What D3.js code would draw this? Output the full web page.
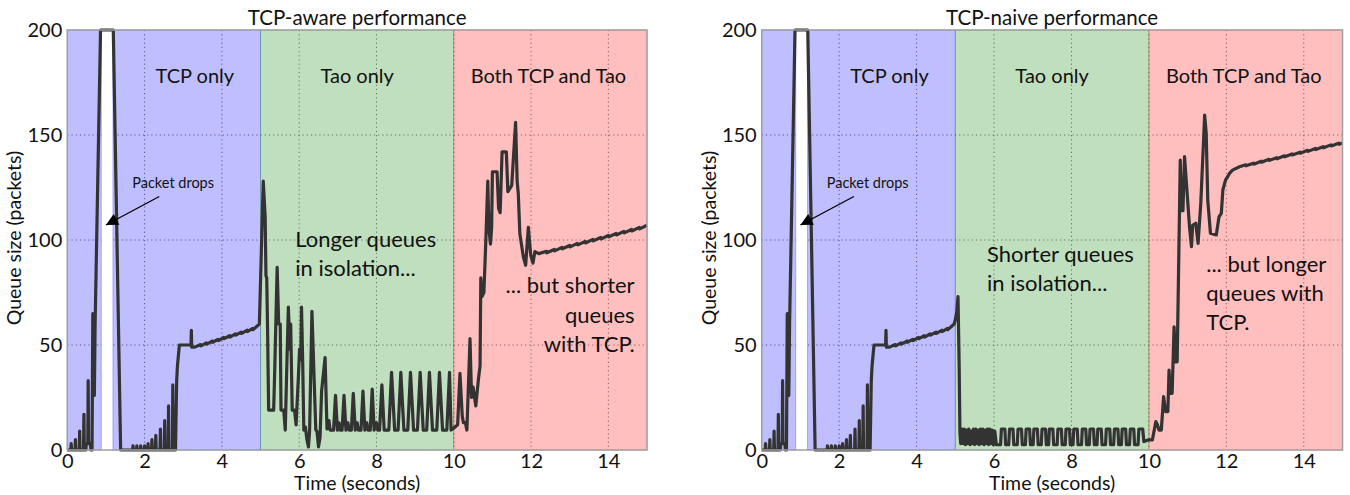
<!DOCTYPE html>
<html><head><meta charset="utf-8">
<script src="https://cdn.jsdelivr.net/npm/d3@7"></script>
<style>
html,body{margin:0;padding:0;background:#fff;}
svg text{font-family:"Lato","Noto Sans",sans-serif;fill:#111;}
</style></head>
<body><svg id="chart" width="1350" height="495"></svg>
<script>
// ---------- data ----------
const xTicks = [0, 2, 4, 6, 8, 10, 12, 14];
const yTicks = [0, 50, 100, 150, 200];
const phaseBounds = [0, 5, 10, 15];           // seconds
const dropWindow = [0.88, 1.18];              // seconds (packet drop gap)
const phaseLabels = ["TCP only", "Tao only", "Both TCP and Tao"];
const phaseLabelTimes = [3.3, 7.5, 12.45];
const titles = ["TCP-aware performance", "TCP-naive performance"];

// TCP-only phase (same in both experiments), [seconds, packets]
const tcpPhase = [
 [0,0],[0.09,0],[0.1,3],[0.11,0],[0.2,0],[0.21,5],[0.22,0],[0.31,0],[0.32,9],[0.33,0],
 [0.42,0],[0.43,17],[0.44,0],[0.48,0],[0.49,3],[0.53,3],[0.54,33],[0.55,3],[0.6,3],[0.61,0],
 [0.64,0],[0.66,65],[0.68,62],[0.7,26],[0.72,60],[0.86,200],[1.19,200],[1.38,0],
 [1.69,0],[1.7,2],[1.71,0],[1.79,0],[1.8,2],[1.81,0],[1.89,0],[1.9,2],[1.91,0],[1.99,0],[2.0,2],[2.01,0],
 [2.08,0],[2.09,3],[2.1,0],[2.18,0],[2.19,5],[2.2,0],[2.28,0],[2.29,7],[2.3,0],[2.4,0],[2.41,10],[2.42,0],
 [2.51,0],[2.52,14],[2.53,0],[2.61,0],[2.62,21],[2.63,0],[2.72,0],[2.73,31],[2.74,0],[2.8,0],[2.83,33],
 [2.85,40],[2.9,50],[3.2,50],[3.21,57],[3.22,49],[3.3,49],
 [3.45,50.2],[3.46,49.6],[3.6,51],[3.61,50.4],[3.75,51.9],[3.76,51.3],[3.9,52.7],[3.91,52.1],
 [4.05,53.6],[4.06,53],[4.2,54.4],[4.21,53.8],[4.35,55.3],[4.36,54.7],[4.5,56.1],[4.51,55.5],
 [4.65,57],[4.66,56.4],[4.8,57.9],[4.81,57.3],[4.97,60]
];

// TCP-aware: Tao-only phase
const awareTao = [
 [4.97,60],[5.07,128],[5.12,111],[5.14,83],[5.16,82],[5.18,60],[5.21,19],[5.34,19],[5.37,40],[5.43,87],
 [5.47,60],[5.51,60],[5.53,19],[5.6,19],[5.64,9.5],[5.68,40],[5.72,68],[5.76,48],[5.78,60],[5.82,19],
 [5.88,19],[5.92,12],[5.98,35],[6.01,48],[6.04,43],[6.06,68],[6.09,43],[6.12,9.5],[6.16,11],[6.2,5],
 [6.24,1.5],[6.27,9.5],[6.33,66],[6.39,32],[6.43,9.5],[6.46,9],[6.5,1.5],[6.54,6],[6.58,28],[6.67,44],
 [6.72,10],[6.77,14],[6.8,9.5],[6.89,9.5],[6.94,26],[6.99,9.5],[7.03,13],[7.06,9.5],[7.11,9.5],[7.16,26],
 [7.21,9.5],[7.26,13],[7.29,9.5],[7.35,9.5],[7.4,27],[7.45,9.5],[7.5,13],[7.53,9.5],[7.6,9.5],[7.65,28],
 [7.7,9.5],[7.75,13],[7.78,9.5],[7.84,9.5],[7.89,29],[7.94,9.5],[8.0,13],[8.03,9.5],[8.08,9.5],[8.14,31],
 [8.2,9.5],[8.32,9.5],[8.39,37],[8.47,9.5],[8.56,9.5],[8.63,37],[8.71,9.5],[8.81,9.5],[8.88,37],[8.96,9.5],
 [9.06,9.5],[9.13,37],[9.21,9.5],[9.3,9.5],[9.37,37],[9.45,9.5],[9.56,9.5],[9.63,37],[9.71,9.5],[9.82,9.5],
 [9.89,37],[9.93,9.5]
];

// TCP-aware: both phase
const awareBoth = [
 [9.93,9.5],[10.04,11],[10.1,12],[10.16,36.5],[10.22,16],[10.25,13],[10.3,13],[10.34,9.5],[10.42,53],
 [10.46,25],[10.5,30],[10.57,21],[10.64,34],[10.68,40],[10.7,82],[10.73,73],[10.78,75],[10.83,100],
 [10.88,128],[10.91,105],[10.95,98],[10.98,106],[11.0,132.5],[11.12,132.5],[11.16,115],[11.2,113],
 [11.25,142],[11.36,142],[11.4,123],[11.5,126],[11.6,156],[11.64,128],[11.67,122],[11.71,103],[11.8,92],
 [11.86,88],[11.93,106],[11.99,93],[12.05,89],[12.1,94.5],[12.2,93.5],
 [12.4,94.6],[12.41,93.9],[12.6,95.5],[12.61,94.8],[12.8,96.5],[12.81,95.8],[13.0,97.4],[13.01,96.7],
 [13.2,98.4],[13.21,97.7],[13.4,99.3],[13.41,98.6],[13.6,100.3],[13.61,99.6],[13.8,101.2],[13.81,100.5],
 [14.0,102.2],[14.01,101.5],[14.2,103.1],[14.21,102.4],[14.4,104.1],[14.41,103.4],[14.6,105],[14.61,104.3],
 [14.8,106],[14.81,105.3],[15,107]
];

// TCP-naive: Tao-only phase
const naiveTao = [
 [4.97,60],[5.0,62],[5.04,66],[5.07,73],[5.1,40],[5.12,8],[5.14,3],
 [5.17,10],[5.2,3],[5.23,10],[5.26,2.5],[5.29,9.5],[5.32,3],[5.35,10],[5.38,2.5],[5.41,9],[5.44,3],
 [5.47,10],[5.5,2.5],[5.53,10],[5.56,3],[5.59,9.5],[5.62,2.5],[5.65,10],[5.68,3],[5.71,10],[5.74,2.5],
 [5.77,9.5],[5.8,3],[5.83,10],[5.86,2.5],[5.89,10],[5.92,3],[5.95,9.5],[5.98,2.5],[6.02,9],[6.06,2.5],
 [6.17,2.5],[6.19,10],[6.28,10],[6.3,2.5],[6.38,2.5],[6.4,10],[6.49,10],[6.51,2.5],
 [6.6,2.5],[6.62,10],[6.71,10],[6.73,2.5],[6.81,2.5],[6.83,10],[6.92,10],[6.94,2.5],
 [7.01,2.5],[7.03,10],[7.12,10],[7.14,2.5],[7.22,2.5],[7.24,10],[7.33,10],[7.35,2.5],
 [7.41,2.5],[7.43,10],[7.52,10],[7.54,2.5],[7.63,2.5],[7.65,10],[7.74,10],[7.76,2.5],
 [7.84,2.5],[7.86,10],[7.95,10],[7.97,2.5],[8.04,2.5],[8.06,10],[8.15,10],[8.17,2.5],
 [8.26,2.5],[8.28,10],[8.37,10],[8.39,2.5],[8.46,2.5],[8.48,10],[8.57,10],[8.59,2.5],
 [8.66,2.5],[8.68,10],[8.77,10],[8.79,2.5],[8.88,2.5],[8.9,10],[8.99,10],[9.01,2.5],
 [9.09,2.5],[9.11,10],[9.2,10],[9.22,2.5],[9.29,2.5],[9.31,10],[9.4,10],[9.42,2.5],
 [9.5,2.5],[9.52,10],[9.61,10],[9.63,2.5],[9.72,2.5],[9.74,10],[9.84,10],[9.87,4]
];

// TCP-naive: both phase
const naiveBoth = [
 [9.87,4],[9.98,4.8],[10.09,4.8],[10.18,13.5],[10.22,12],[10.26,9.5],[10.32,9.5],[10.38,25.4],
 [10.43,18.3],[10.49,18.3],[10.52,38],[10.55,27],[10.6,27],[10.65,58.7],[10.69,42],[10.73,42],
 [10.81,138],[10.84,114],[10.88,114],[10.92,139.7],[10.97,127],[11.05,106],[11.1,96.8],[11.13,107],
 [11.21,108],[11.27,98.4],[11.34,117.5],[11.44,159.5],[11.48,150.8],[11.52,119],[11.59,103.2],
 [11.74,102.4],[11.81,111],[11.87,112.7],[11.91,123.8],[11.98,128.6],[12.03,130],[12.08,131.7],
 [12.16,133.3],[12.34,134.9],
 [12.5,135.8],[12.51,135.3],[12.7,136.6],[12.71,136.1],[12.9,137.5],[12.91,137],[13.1,138.4],[13.11,137.9],
 [13.3,139.2],[13.31,138.7],[13.5,140.1],[13.51,139.6],[13.7,141],[13.71,140.5],[13.9,141.8],[13.91,141.3],
 [14.1,142.7],[14.11,142.2],[14.3,143.6],[14.31,143.1],[14.5,144.4],[14.51,143.9],[14.7,145.3],[14.71,144.8],
 [14.9,146.1],[14.91,145.6],[15,146.2]
];

const awareSeries = tcpPhase.concat(awareTao, awareBoth);
const naiveSeries = tcpPhase.concat(naiveTao, naiveBoth);

// ---------- drawing ----------
const svg = d3.select("#chart");
const yTop = 30, yBot = 450;
const panels = [
  {x0: 67.3, x1: 647, title: titles[0], series: awareSeries,
   notes: [
     {lines:["Longer queues","in isolation..."], t:5.9, anchor:"start", base:247, step:29},
     {lines:["... but shorter","queues","with TCP."], t:14.68, anchor:"end", base:293, step:29.5}
   ]},
  {x0: 761.7, x1: 1342.5, title: titles[1], series: naiveSeries,
   notes: [
     {lines:["Shorter queues","in isolation..."], t:5.82, anchor:"start", base:262, step:29},
     {lines:["... but longer","queues with","TCP."], t:11.48, anchor:"start", base:272, step:29}
   ]}
];
const phaseColors = ["#0000ff", "#008000", "#ff0000"];

panels.forEach(p => {
  const x = d3.scaleLinear().domain([0, 15]).range([p.x0, p.x1]);
  const y = d3.scaleLinear().domain([0, 200]).range([yBot, yTop]);
  const g = svg.append("g");

  // grid
  g.append("g").selectAll("line.vg").data(xTicks.filter(d => d > 0)).join("line")
    .attr("x1", d => x(d)).attr("x2", d => x(d)).attr("y1", yTop).attr("y2", yBot)
    .attr("stroke", "#777").attr("stroke-width", 1).attr("stroke-dasharray", "1.2,3");
  g.append("g").selectAll("line.hg").data(yTicks.filter(d => d > 0 && d < 200)).join("line")
    .attr("x1", p.x0).attr("x2", p.x1).attr("y1", d => y(d)).attr("y2", d => y(d))
    .attr("stroke", "#777").attr("stroke-width", 1).attr("stroke-dasharray", "1.2,3");

  // phase spans
  const spans = [
    {a: phaseBounds[0], b: dropWindow[0], c: phaseColors[0]},
    {a: dropWindow[1], b: phaseBounds[1], c: phaseColors[0]},
    {a: phaseBounds[1], b: phaseBounds[2], c: phaseColors[1]},
    {a: phaseBounds[2], b: phaseBounds[3], c: phaseColors[2]}
  ];
  g.append("rect").attr("x", x(dropWindow[0])).attr("width", x(dropWindow[1]) - x(dropWindow[0]))
    .attr("y", yTop).attr("height", yBot - yTop).attr("fill", "#fff");
  g.append("g").selectAll("rect").data(spans).join("rect")
    .attr("x", d => x(d.a)).attr("width", d => x(d.b) - x(d.a))
    .attr("y", yTop).attr("height", yBot - yTop)
    .attr("fill", d => d.c).attr("fill-opacity", 0.25)
    .attr("stroke", d => d.c).attr("stroke-opacity", 0.25).attr("stroke-width", 1);

  // phase labels
  g.append("g").selectAll("text").data(phaseLabels).join("text")
    .attr("x", (d, i) => x(phaseLabelTimes[i])).attr("y", 83)
    .attr("text-anchor", "middle").attr("font-size", 20).text(d => d);

  // data line
  const line = d3.line().x(d => x(d[0])).y(d => y(d[1]));
  g.append("path").datum(p.series).attr("d", line)
    .attr("fill", "none").attr("stroke", "#333").attr("stroke-width", 3.2)
    .attr("stroke-linejoin", "round");

  // frame
  g.append("rect").attr("x", p.x0).attr("y", yTop).attr("width", p.x1 - p.x0).attr("height", yBot - yTop)
    .attr("fill", "none").attr("stroke", "#a0a0a0").attr("stroke-width", 1.5);

  // axes
  const xa = g.append("g").attr("transform", `translate(0,${yBot})`)
    .call(d3.axisBottom(x).tickValues(xTicks).tickSize(0).tickPadding(0).tickFormat(d3.format("d")));
  xa.select(".domain").remove();
  xa.selectAll("text").attr("font-size", 20).attr("fill", "#111").attr("y", 18).attr("dy", null);
  const ya = g.append("g").attr("transform", `translate(${p.x0},0)`)
    .call(d3.axisLeft(y).tickValues(yTicks).tickSize(0).tickPadding(5).tickFormat(d3.format("d")));
  ya.select(".domain").remove();
  ya.selectAll("text").attr("font-size", 20).attr("fill", "#111");

  // titles & axis labels
  g.append("text").attr("x", (p.x0 + p.x1) / 2).attr("y", 25).attr("text-anchor", "middle")
    .attr("font-size", 20.5).text(p.title);
  g.append("text").attr("x", (p.x0 + p.x1) / 2).attr("y", 490).attr("text-anchor", "middle")
    .attr("font-size", 19.5).text("Time (seconds)");
  g.append("text").attr("transform", `translate(${p.x0 - 46},238) rotate(-90)`)
    .attr("text-anchor", "middle").attr("font-size", 19.5).text("Queue size (packets)");

  // packet drops annotation
  const defsId = "arr" + Math.round(p.x0);
  svg.append("defs").append("marker").attr("id", defsId).attr("viewBox", "0 0 10 10")
    .attr("refX", 10).attr("refY", 5).attr("markerWidth", 18).attr("markerHeight", 12)
    .attr("markerUnits", "userSpaceOnUse").attr("orient", "auto")
    .append("path").attr("d", "M0,0 L10,5 L0,10 z").attr("fill", "#000");
  g.append("text").attr("x", x(1.68)).attr("y", 188).attr("font-size", 14.5).text("Packet drops");
  g.append("line").attr("x1", x(2.38)).attr("y1", 196.5).attr("x2", x(1.0)).attr("y2", 225)
    .attr("stroke", "#000").attr("stroke-width", 1.3).attr("marker-end", `url(#${defsId})`);

  // text notes
  p.notes.forEach(n => {
    const t = g.append("text").attr("x", x(n.t)).attr("y", n.base)
      .attr("text-anchor", n.anchor).attr("font-size", 22);
    n.lines.forEach((l, i) => {
      t.append("tspan").attr("x", x(n.t)).attr("y", n.base + i * n.step).text(l);
    });
  });
});
</script></body></html>
